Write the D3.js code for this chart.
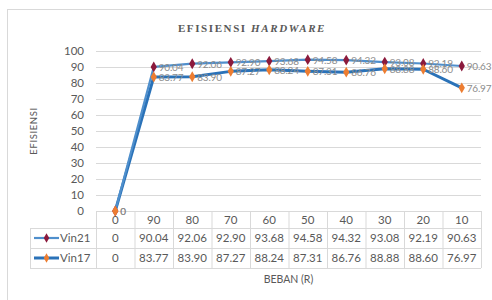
<!DOCTYPE html>
<html>
<head>
<meta charset="utf-8">
<script src="https://cdn.jsdelivr.net/npm/d3@7"></script>
<style>
  body { margin: 0; background: #fff; }
  svg { display: block; font-family: Lato, "Open Sans", sans-serif; }
</style>
</head>
<body>
<div id="chart"></div>
<script>
const categories = ["0", "90", "80", "70", "60", "50", "40", "30", "20", "10"];
const vin21 = [0, 90.04, 92.06, 92.90, 93.68, 94.58, 94.32, 93.08, 92.19, 90.63];
const vin17 = [0, 83.77, 83.90, 87.27, 88.24, 87.31, 86.76, 88.88, 88.60, 76.97];
const yTicks = [0, 10, 20, 30, 40, 50, 60, 70, 80, 90, 100];

const width = 492, height = 300;
const margin = { left: 96, right: 11, top: 51, bottom: 89 };

const series = [
  { name: "Vin21", values: vin21, line: "#4f8fcc", lineWidth: 2.2, marker: "#8b1a3c" },
  { name: "Vin17", values: vin17, line: "#2a72b8", lineWidth: 3, marker: "#ed7d31" }
];

const svg = d3.select("#chart").append("svg")
  .attr("width", width)
  .attr("height", height);

// chart frame
svg.append("rect")
  .attr("x", 7.5).attr("y", 9.5)
  .attr("width", 500).attr("height", 300)
  .attr("fill", "none").attr("stroke", "#d9d9d9");

const x = d3.scaleBand()
  .domain(categories)
  .range([margin.left, width - margin.right]);

const y = d3.scaleLinear()
  .domain([0, 100])
  .range([height - margin.bottom, margin.top]);

// title
const title = svg.append("text")
  .attr("x", 252).attr("y", 32)
  .attr("text-anchor", "middle")
  .attr("font-family", "'Liberation Serif', 'DejaVu Serif', serif")
  .attr("font-weight", "bold")
  .attr("font-size", 11)
  .attr("letter-spacing", 1.6)
  .attr("fill", "#595959");
title.append("tspan").text("EFISIENSI ");
title.append("tspan").attr("font-style", "italic").text("HARDWARE");

// gridlines
svg.append("g")
  .selectAll("line")
  .data(yTicks)
  .join("line")
  .attr("x1", margin.left).attr("x2", width - margin.right)
  .attr("y1", d => y(d) + 0.5).attr("y2", d => y(d) + 0.5)
  .attr("stroke", "#d9d9d9");

// y axis labels
const yAxis = svg.append("g")
  .attr("transform", `translate(${margin.left},0)`)
  .call(d3.axisLeft(y).tickValues(yTicks).tickSize(0).tickPadding(12));
yAxis.select(".domain").remove();
yAxis.selectAll("text")
  .attr("font-family", "Lato, sans-serif")
  .attr("font-size", 11.5)
  .attr("fill", "#595959");

svg.append("text")
  .attr("transform", `translate(37,${(y(0) + y(100)) / 2}) rotate(-90)`)
  .attr("text-anchor", "middle")
  .attr("font-size", 9.5)
  .attr("letter-spacing", 0.6)
  .attr("fill", "#595959")
  .text("EFISIENSI");

// data table
const rowTop = y(0);
const rows = [rowTop, rowTop + 17, rowTop + 37, rowTop + 57];
const tableLeft = 30;
const grid = svg.append("g").attr("stroke", "#d9d9d9").attr("fill", "none");
grid.append("line")
  .attr("x1", margin.left).attr("x2", width - margin.right)
  .attr("y1", rows[0] + 0.5).attr("y2", rows[0] + 0.5);
rows.slice(1).forEach(r => {
  grid.append("line")
    .attr("x1", tableLeft).attr("x2", width - margin.right)
    .attr("y1", r + 0.5).attr("y2", r + 0.5);
});
grid.append("line")
  .attr("x1", tableLeft + 0.5).attr("x2", tableLeft + 0.5)
  .attr("y1", rows[1]).attr("y2", rows[3]);
categories.forEach(c => {
  grid.append("line")
    .attr("x1", x(c) + 0.5).attr("x2", x(c) + 0.5)
    .attr("y1", rows[0]).attr("y2", rows[3]);
});
grid.append("line")
  .attr("x1", width - margin.right + 0.5).attr("x2", width - margin.right + 0.5)
  .attr("y1", rows[0]).attr("y2", rows[3]);

svg.append("g")
  .selectAll("text")
  .data(categories)
  .join("text")
  .attr("x", d => x(d) + x.bandwidth() / 2)
  .attr("y", rows[0] + 13)
  .attr("text-anchor", "middle")
  .attr("font-size", 11.5)
  .attr("fill", "#595959")
  .text(d => d);

series.forEach((s, si) => {
  const ty = rows[si + 1];
  const cells = svg.append("g");
  cells.selectAll("text")
    .data(s.values)
    .join("text")
    .attr("x", (d, i) => x(categories[i]) + x.bandwidth() / 2)
    .attr("y", ty + 14)
    .attr("text-anchor", "middle")
    .attr("font-size", 11.5)
    .attr("fill", "#595959")
    .text(d => d === 0 ? "0" : d.toFixed(2));
  // legend key
  cells.append("line")
    .attr("x1", 34).attr("x2", 59)
    .attr("y1", ty + 10).attr("y2", ty + 10)
    .attr("stroke", s.line).attr("stroke-width", s.lineWidth);
  cells.append("path")
    .attr("d", d3.symbol(d3.symbolDiamond, 26)())
    .attr("transform", `translate(46.5,${ty + 10})`)
    .attr("fill", s.marker);
  cells.append("text")
    .attr("x", 60).attr("y", ty + 14)
    .attr("font-size", 11.5)
    .attr("fill", "#595959")
    .text(s.name);
});

svg.append("text")
  .attr("x", (margin.left + width - margin.right) / 2)
  .attr("y", 283)
  .attr("text-anchor", "middle")
  .attr("font-size", 10.5)
  .attr("fill", "#595959")
  .text("BEBAN (R)");

// lines, markers and labels
const line = d3.line()
  .x((d, i) => x(categories[i]) + x.bandwidth() / 2)
  .y(d => y(d));

[series[1], series[0]].forEach(s => {
  svg.append("path")
    .datum(s.values)
    .attr("d", line)
    .attr("fill", "none")
    .attr("stroke", s.line)
    .attr("stroke-width", s.lineWidth)
    .attr("stroke-linejoin", "round");
});

series.forEach(s => {
  const g = svg.append("g");
  g.selectAll("path")
    .data(s.values)
    .join("path")
    .attr("d", d3.symbol(d3.symbolDiamond, 34)())
    .attr("transform", (d, i) => `translate(${x(categories[i]) + x.bandwidth() / 2},${y(d)})`)
    .attr("fill", s.marker);
  g.selectAll("text")
    .data(s.values)
    .join("text")
    .attr("x", (d, i) => x(categories[i]) + x.bandwidth() / 2 + 5)
    .attr("y", d => y(d) + 4)
    .attr("font-size", 10)
    .attr("letter-spacing", -0.2)
    .attr("fill", "#8c8c8c")
    .text(d => d === 0 ? "0" : d.toFixed(2));
});
</script>
</body>
</html>
